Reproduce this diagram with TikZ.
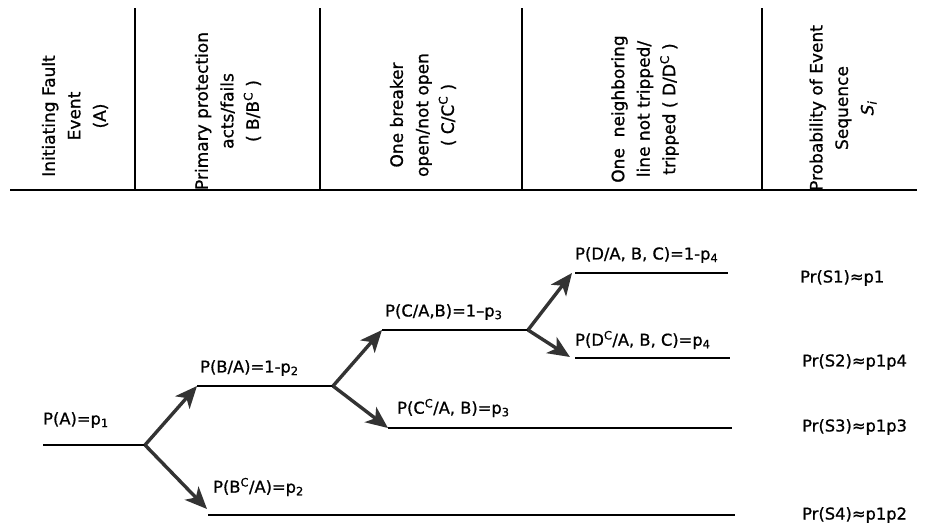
\documentclass[tikz,border=0pt]{standalone}
\usepackage{fontspec}
\setmainfont{DejaVu Sans}
\newfontfamily\inkfont{DejaVu Sans}[FakeBold=0.9]
\usetikzlibrary{arrows.meta}

\begin{document}
\begin{tikzpicture}[x=1pt,y=-1pt,
  rule/.style={line width=1.3pt},
  branch/.style={line width=2.2pt},
  arr/.style={line width=3.4pt, draw=black!80,
    -{Stealth[length=22pt,width=19pt,inset=6pt]}},
  lbl/.style={anchor=west, inner sep=0pt, font=\inkfont\fontsize{16.3}{19}\selectfont},
  head/.style={rotate=90, align=center, inner sep=0pt,
    font=\inkfont\fontsize{17}{25.5}\selectfont}]
\useasboundingbox (0,0) rectangle (928,531);

% ---- table header: column rules and titles ----
\coordinate (hl) at (10,190);
\coordinate (hr) at (917,190);
\draw[rule] (hl) -- (hr);
\foreach \x [count=\i] in {135,320,522,762}{
  \coordinate (vt\i) at (\x,8);
  \coordinate (vb\i) at (\x,190);
  \draw[rule] (vt\i) -- (vb\i);
}

\node[head] (h1) at (75,116) {Initiating Fault\\Event\\(A)};
\node[head] (h2) at (228,111) {Primary protection\\acts/fails\\( B/B\textsuperscript{C} )};
\node[head] (h3) at (423,115) {One breaker\\open/not open\\( C/C\textsuperscript{C} )};
\node[head] (h4) at (645,109) {One~~neighboring\\line not tripped/\\tripped ( D/D\textsuperscript{C} )};
\node[head] (h5) at (843,108) {Probability of Event\\Sequence\\{\fontspec{DejaVu Sans Oblique}[FakeBold=0.9]S\textsubscript{i}}};

% ---- event tree ----
% branch points and line ends
\coordinate (a0) at (43,445);   \coordinate (n1) at (145,445);
\coordinate (b1) at (197,386);  \coordinate (n2) at (333,386);
\coordinate (c0) at (207,509);  \coordinate (b0) at (208,515);  \coordinate (e4) at (735,515);
\coordinate (c1) at (382,330);  \coordinate (n3) at (528,330);
\coordinate (d0) at (388,428);  \coordinate (e3) at (732,428);
\coordinate (t1) at (572,273);  \coordinate (f1) at (575,273);  \coordinate (e1) at (728,273);
\coordinate (t2) at (570,357);  \coordinate (f2) at (575,358);  \coordinate (e2) at (730,358);

\draw[branch] (a0) -- (n1);
\draw[branch] (b1) -- (n2);
\draw[branch] (b0) -- (e4);
\draw[branch] (c1) -- (n3);
\draw[branch] (d0) -- (e3);
\draw[branch] (f1) -- (e1);
\draw[branch] (f2) -- (e2);

\draw[arr] (n1) -- (b1);
\draw[arr] (n1) -- (c0);
\draw[arr] (n2) -- (c1);
\draw[arr] (n2) -- (d0);
\draw[arr] (n3) -- (t1);
\draw[arr] (n3) -- (t2);

% branch probabilities
\node[lbl] (pa)  at (43,420)  {P(A)=p\textsubscript{1}};
\node[lbl] (pb)  at (200,368) {P(B/A)=1-p\textsubscript{2}};
\node[lbl] (pbc) at (213,487) {P(B\textsuperscript{C}/A)=p\textsubscript{2}};
\node[lbl] (pc)  at (385,312) {P(C/A,B)=1–p\textsubscript{3}};
\node[lbl] (pcc) at (397,408) {P(C\textsuperscript{C}/A, B)=p\textsubscript{3}};
\node[lbl] (pd)  at (575,255) {P(D/A, B, C)=1-p\textsubscript{4}};
\node[lbl] (pdc) at (575,340) {P(D\textsuperscript{C}/A, B, C)=p\textsubscript{4}};

% sequence probabilities
\node[lbl] (s1) at (800,278) {Pr(S1)≈p1};
\node[lbl] (s2) at (802,362) {Pr(S2)≈p1p4};
\node[lbl] (s3) at (802,427) {Pr(S3)≈p1p3};
\node[lbl] (s4) at (802,515) {Pr(S4)≈p1p2};
\end{tikzpicture}
\end{document}
